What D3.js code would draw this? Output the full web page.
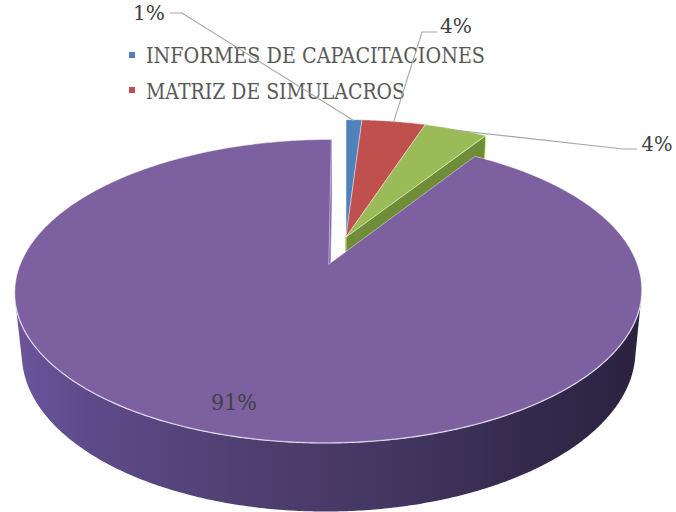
<!DOCTYPE html>
<html>
<head>
<meta charset="utf-8">
<script src="https://cdn.jsdelivr.net/npm/d3@7"></script>
<style>
  html, body { margin: 0; padding: 0; background: #ffffff; }
  svg { display: block; }
  text { font-family: "DejaVu Serif", "Liberation Serif", serif; }
</style>
</head>
<body>
<svg id="chart" width="676" height="512"></svg>
<script>
// ---- data ----
const values = [1, 4, 4, 91];
const valueLabels = ["1%", "4%", "4%", "91%"];
const legendLabels = ["INFORMES DE CAPACITACIONES", "MATRIZ DE SIMULACROS"];

// ---- styling ----
const sliceColors = ["#4f81bd", "#c0504d", "#9bbb59", "#7d60a0"];
const faceColors  = ["#3d6699", "#9a3b39", "#6f8c38", "#5b4780"];
const explode     = [0, 0, 0, 0.2];

const svg = d3.select("#chart");

// ---- 3D camera (perspective view of a tilted pie) ----
const cam = { cx: 346, cy: 237, F: 1550, D: 5.195, sinE: 0.4605, thick: 0.228 };
cam.cosE = Math.sqrt(1 - cam.sinE * cam.sinE);
const camPos = [0, -cam.D * cam.cosE, cam.D * cam.sinE];

// unit radius scale for the pie disc
const rScale = d3.scaleLinear().domain([0, 1]).range([0, 1]);

function project(X, Y, Z) {
  const d = cam.D + Y * cam.cosE - Z * cam.sinE;
  return [cam.cx + X * cam.F / d, cam.cy - (Y * cam.sinE + Z * cam.cosE) * cam.F / d];
}

const pie = d3.pie().sort(null).startAngle(0).endAngle(2 * Math.PI);
const arcs = pie(values).map((a, i) => {
  const mid = (a.startAngle + a.endAngle) / 2;
  const ex = rScale(explode[i]);
  return { ...a, i, mid, ox: ex * Math.sin(mid), oy: ex * Math.cos(mid) };
});

const R = rScale(1);
const rim = (s, ang, z, rr = R) => project(s.ox + rr * Math.sin(ang), s.oy + rr * Math.cos(ang), z);
const ctr = (s, z) => project(s.ox, s.oy, z);
const line = d3.line();
const lineClosed = d3.line().curve(d3.curveLinearClosed);

function samples(a0, a1) {
  const n = Math.max(4, Math.ceil((a1 - a0) / (Math.PI / 360)));
  return d3.range(n + 1).map(k => a0 + (a1 - a0) * k / n);
}

// side-wall shading
const defs = svg.append("defs");
const grad = defs.append("linearGradient")
  .attr("id", "wallPurple").attr("gradientUnits", "userSpaceOnUse")
  .attr("x1", 15).attr("y1", 0).attr("x2", 640).attr("y2", 0);
[[0, "#6c559c"], [0.12, "#5e4a8a"], [0.35, "#504072"], [0.6, "#433661"], [0.82, "#342a4c"], [1, "#2b2240"]]
  .forEach(([o, c]) => grad.append("stop").attr("offset", o).attr("stop-color", c));

const g = svg.append("g");

// far slices first
const order = arcs.slice().sort((a, b) =>
  (b.oy + 0.5 * Math.cos(b.mid)) - (a.oy + 0.5 * Math.cos(a.mid)));

const h = -cam.thick;
order.forEach(s => {
  const angs = samples(s.startAngle, s.endAngle);

  // outer wall, only front-facing parts
  const vis = angs.map(a => {
    const nx = Math.sin(a), ny = Math.cos(a);
    const px = s.ox + nx, py = s.oy + ny;
    return (camPos[0] - px) * nx + (camPos[1] - py) * ny > 0;
  });
  const runs = [];
  let cur = null;
  angs.forEach((a, k) => {
    if (vis[k]) { if (!cur) { cur = []; runs.push(cur); } cur.push(a); }
    else cur = null;
  });
  runs.forEach(run => {
    if (run.length < 2) return;
    const top = run.map(a => rim(s, a, 0));
    const bot = run.slice().reverse().map(a => rim(s, a, h));
    g.append("path")
      .attr("d", lineClosed(top.concat(bot)))
      .attr("fill", s.i === 3 ? "url(#wallPurple)" : faceColors[s.i]);
    g.append("path")
      .attr("d", line(top))
      .attr("fill", "none")
      .attr("stroke", "#e6def2")
      .attr("stroke-width", 1.8);
  });

  // radial cut faces
  const faces = [
    { a: s.startAngle, n: [-Math.cos(s.startAngle), Math.sin(s.startAngle)] },
    { a: s.endAngle,   n: [Math.cos(s.endAngle), -Math.sin(s.endAngle)] }
  ];
  faces.forEach(f => {
    const dot = (camPos[0] - s.ox) * f.n[0] + (camPos[1] - s.oy) * f.n[1];
    if (dot <= 0) return;
    const pts = [ctr(s, 0), rim(s, f.a, 0), rim(s, f.a, h), ctr(s, h)];
    g.append("path")
      .attr("d", lineClosed(pts))
      .attr("fill", faceColors[s.i])
      .attr("stroke", d3.color(sliceColors[s.i]).brighter(0.8))
      .attr("stroke-width", 0.8)
      .attr("stroke-linejoin", "round");
  });

  // top surface
  const topPts = [ctr(s, 0)].concat(angs.map(a => rim(s, a, 0)));
  g.append("path")
    .attr("d", lineClosed(topPts))
    .attr("fill", sliceColors[s.i])
    .attr("stroke", "rgba(255,255,255,0.55)")
    .attr("stroke-width", 0.8)
    .attr("stroke-linejoin", "round");
});

// ---- legend ----
const legendLayout = [
  { x: 129, y: 52, tx: 146, ty: 63, len: 339 },
  { x: 129, y: 87, tx: 146, ty: 99, len: 259 }
];
const legend = svg.append("g");
legendLabels.forEach((txt, i) => {
  const L = legendLayout[i];
  legend.append("rect").attr("x", L.x).attr("y", L.y).attr("width", 6).attr("height", 6)
    .attr("fill", sliceColors[i]);
  legend.append("text").attr("x", L.tx).attr("y", L.ty)
    .attr("font-size", 22)
    .attr("fill", "#595959")
    .attr("textLength", L.len).attr("lengthAdjust", "spacingAndGlyphs")
    .text(txt);
});

// ---- data labels with leader lines ----
const labelLayout = [
  { x: 149, y: 20,  len: 32, pre: [[170, 13], [182, 13]] },
  { x: 456, y: 33,  len: 32, pre: [[437, 32], [422, 32]] },
  { x: 657, y: 151, len: 31, pre: [[637, 149], [623, 149]] },
  { x: 234, y: 410, len: 46, pre: null }
];
const labels = svg.append("g");
arcs.forEach(s => {
  const L = labelLayout[s.i];
  if (L.pre) {
    const anchor = rim(s, s.mid, 0, rScale(0.99));
    labels.append("path")
      .attr("d", line(L.pre.concat([anchor])))
      .attr("fill", "none")
      .attr("stroke", "#a6a6a6")
      .attr("stroke-width", 1.1);
  }
  labels.append("text")
    .attr("x", L.x).attr("y", L.y)
    .attr("text-anchor", "middle")
    .attr("font-size", s.i === 3 ? 23 : 20)
    .attr("fill", "#404040")
    .attr("textLength", L.len).attr("lengthAdjust", "spacingAndGlyphs")
    .text(valueLabels[s.i]);
});
</script>
</body>
</html>
